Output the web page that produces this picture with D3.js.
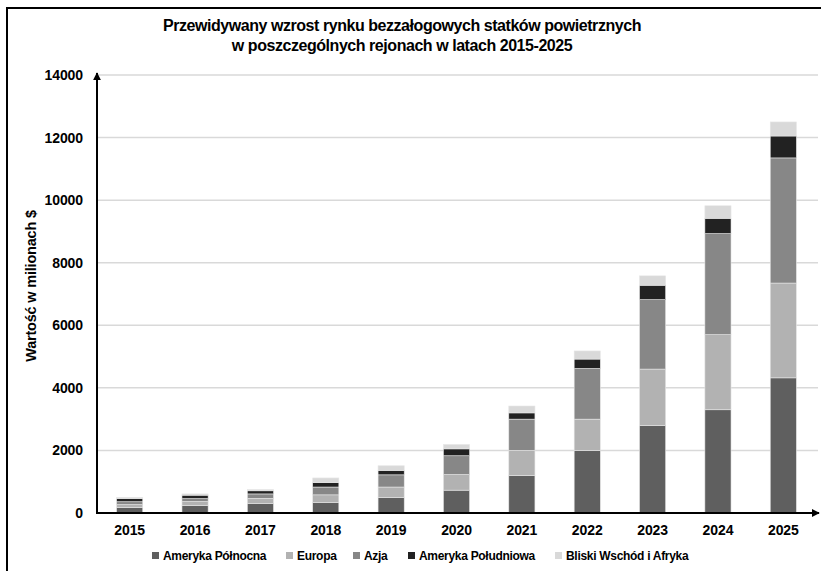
<!DOCTYPE html>
<html><head><meta charset="utf-8">
<script src="https://cdn.jsdelivr.net/npm/d3@7"></script>
<style>body{margin:0;background:#fff}svg{display:block;font-family:"Liberation Sans",Arial,sans-serif}</style>
</head><body>
<svg id="c" width="821" height="571"></svg>
<script>
const years = ["2015","2016","2017","2018","2019","2020","2021","2022","2023","2024","2025"];
const seriesNames = ["Ameryka Północna","Europa","Azja","Ameryka Południowa","Bliski Wschód i Afryka"];
const northAmerica = [180, 240, 310, 340, 490, 730, 1200, 2000, 2800, 3300, 4320];
const europe       = [90, 130, 160, 240, 340, 500, 800, 1000, 1800, 2400, 3030];
const asia         = [90, 90, 140, 250, 390, 600, 1000, 1620, 2220, 3230, 4000];
const southAmerica = [100, 110, 100, 140, 140, 220, 200, 300, 460, 490, 700];
const middleEast   = [40, 40, 40, 150, 150, 140, 220, 260, 300, 400, 450];
const yTicks = [0, 2000, 4000, 6000, 8000, 10000, 12000, 14000];
const colors = ["#5f5f5f","#b2b2b2","#878787","#222222","#d9d9d9"];

const seriesVals = [northAmerica, europe, asia, southAmerica, middleEast];
const rows = years.map((yr,i)=>{const r={year:yr}; seriesNames.forEach((s,k)=>r[s]=seriesVals[k][i]); return r;});
const stack = d3.stack().keys(seriesNames)(rows);

const svg = d3.select("#c");
const pLeft = 97, pRight = 816, pTop = 75, pBottom = 513;
const x = d3.scaleBand().domain(years).range([pLeft, pRight]).paddingInner(0.6).paddingOuter(0.3);
const y = d3.scaleLinear().domain([0, 14000]).range([pBottom, pTop]);

// frame
svg.append("path").attr("d","M7,575 V8 H830").attr("fill","none").attr("stroke","#000").attr("stroke-width",2);

// title
const title = svg.append("text").attr("text-anchor","middle").attr("font-weight","bold").attr("font-size",16).attr("letter-spacing",-0.45);
title.append("tspan").attr("x",402).attr("y",31).text("Przewidywany wzrost rynku bezzałogowych statków powietrznych");
title.append("tspan").attr("x",402).attr("y",51).text("w poszczególnych rejonach w latach 2015-2025");

// grid
svg.append("g").selectAll("line").data(yTicks.filter(d=>d>0)).join("line")
  .attr("x1",pLeft).attr("x2",818).attr("y1",d=>y(d)).attr("y2",d=>y(d))
  .attr("stroke","#d9d9d9").attr("stroke-width",1.5);

// bars
svg.append("g").selectAll("g").data(stack).join("g").attr("fill",(d,i)=>colors[i])
  .selectAll("rect").data(d=>d).join("rect")
  .attr("x",d=>x(d.data.year)).attr("width",x.bandwidth())
  .attr("y",d=>y(d[1])).attr("height",d=>y(d[0])-y(d[1]))
  .attr("stroke","#e6e6e6").attr("stroke-width",0.6);

// y axis
const ya = svg.append("g").attr("transform",`translate(${pLeft},0)`)
  .call(d3.axisLeft(y).tickValues(yTicks).tickSize(0).tickPadding(14).tickFormat(d3.format("d")));
ya.select(".domain").remove();
ya.selectAll("text").attr("font-size",14).attr("font-weight","bold").attr("font-family","Liberation Sans, Arial, sans-serif").attr("fill","#000").attr("letter-spacing",-0.1);

// x axis
const xa = svg.append("g").attr("transform",`translate(0,${pBottom})`)
  .call(d3.axisBottom(x).tickSize(0).tickPadding(12));
xa.select(".domain").remove();
xa.selectAll("text").attr("font-size",14).attr("font-weight","bold").attr("font-family","Liberation Sans, Arial, sans-serif").attr("fill","#000").attr("letter-spacing",-0.1);

// axis lines with arrows
svg.append("defs").append("marker").attr("id","arr").attr("viewBox","0 0 10 10").attr("refX",9).attr("refY",5)
  .attr("markerWidth",4).attr("markerHeight",4).attr("orient","auto")
  .append("path").attr("d","M0,0 L10,5 L0,10 z").attr("fill","#000");
svg.append("line").attr("x1",pLeft).attr("x2",pLeft).attr("y1",pBottom+1).attr("y2",pTop-2)
  .attr("stroke","#000").attr("stroke-width",2).attr("marker-end","url(#arr)");
svg.append("line").attr("x1",pLeft-1).attr("x2",819).attr("y1",pBottom).attr("y2",pBottom)
  .attr("stroke","#000").attr("stroke-width",2).attr("marker-end","url(#arr)");

// y label
svg.append("text").attr("transform","translate(36,286) rotate(-90)").attr("text-anchor","middle")
  .attr("font-size",14.5).attr("font-weight","bold").attr("letter-spacing",-0.2).text("Wartość w milionach $");

// legend
const legX = [152, 286, 353, 408, 555];
const lg = svg.append("g").selectAll("g").data(seriesNames).join("g")
  .attr("transform",(d,i)=>`translate(${legX[i]},556)`);
lg.append("rect").attr("x",0).attr("y",-4).attr("width",7).attr("height",7).attr("fill",(d,i)=>colors[i]);
lg.append("text").attr("x",11).attr("y",4).attr("font-size",12).attr("font-weight","bold").attr("letter-spacing",-0.3).text(d=>d);
</script>
</body></html>
